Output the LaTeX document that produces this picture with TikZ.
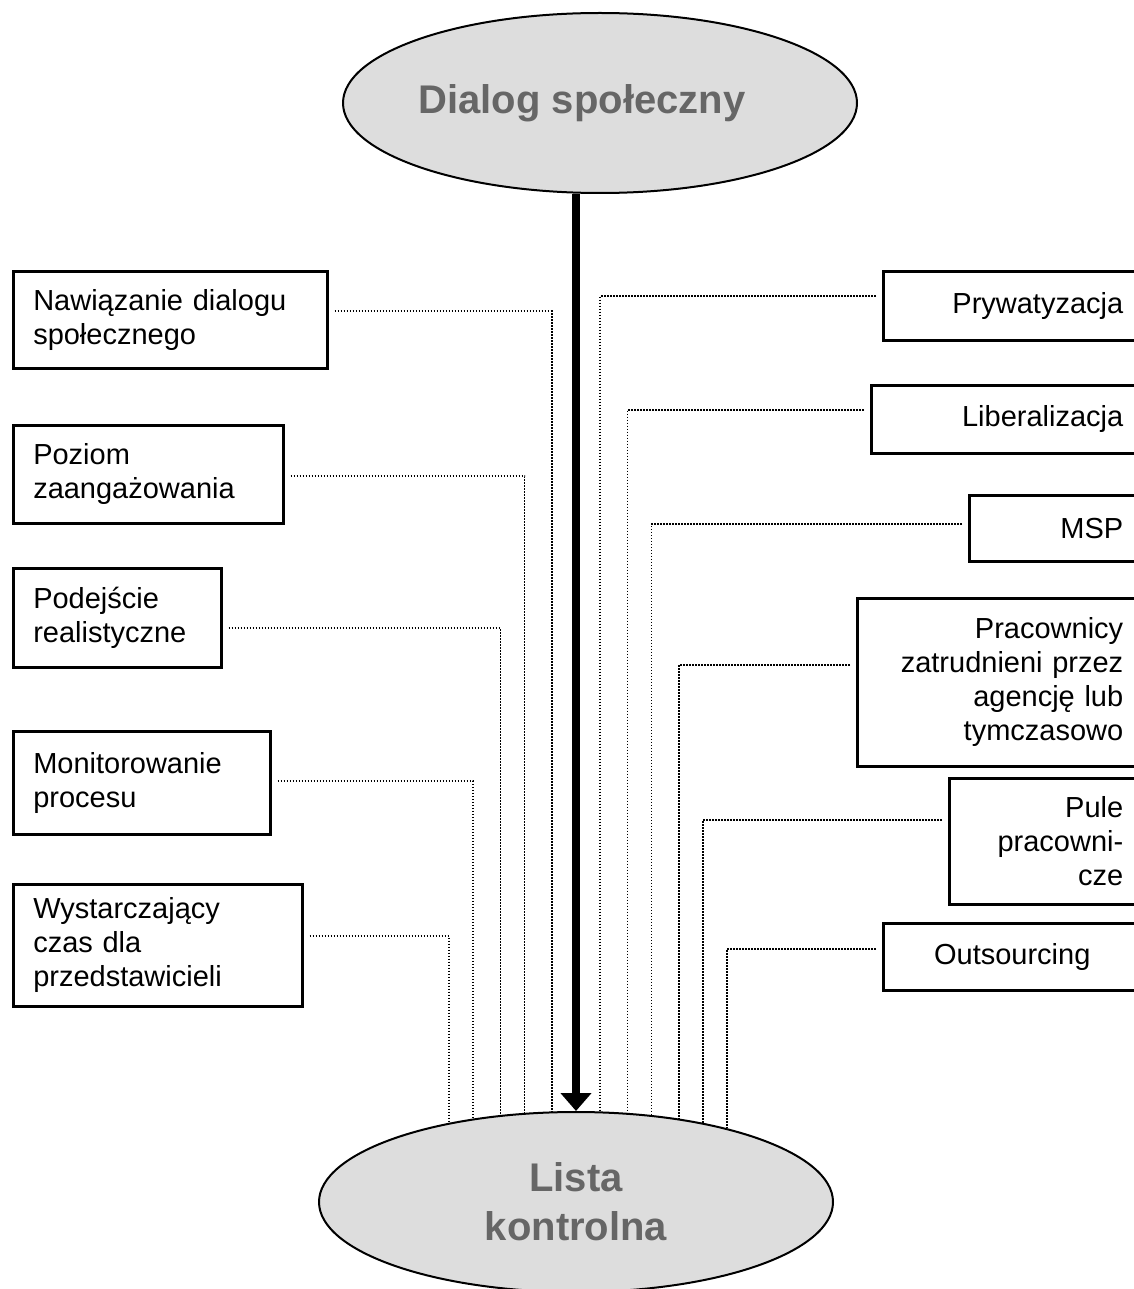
\documentclass[tikz,border=0pt]{standalone}
\usepackage{fontspec}
\setmainfont{Liberation Sans}
\usetikzlibrary{arrows.meta, shapes.geometric}
\definecolor{ovalfill}{HTML}{DDDDDD}
\definecolor{ovaltext}{HTML}{666666}

\begin{document}
\begin{tikzpicture}[x=1pt, y=-1pt,
  oval/.style={draw, ellipse, line width=2pt, fill=ovalfill, text=ovaltext,
    minimum width=514pt, minimum height=180pt, inner sep=0pt, align=center,
    font=\fontsize{40}{49}\selectfont\bfseries},
  leftbox/.style={draw, rectangle, line width=2.5pt, anchor=north west,
    inner xsep=20pt, inner ysep=4pt, align=left, font=\fontsize{29}{34}\selectfont},
  rightbox/.style={leftbox, inner xsep=18pt, align=right},
  link/.style={line width=1.6pt, dash pattern=on 1.6pt off 1.4pt},
  mainarrow/.style={-{Triangle[width=30pt,length=18pt]}, line width=7.5pt}
]
\useasboundingbox (0,0) rectangle (1133,1289);

% Ovals
\node[oval, label={[text=ovaltext, font=\fontsize{40}{49}\selectfont\bfseries,
  xshift=-18pt]center:Dialog społeczny}] (dialog) at (600,103) {};
\node[oval] (lista) at (576,1202) {Lista\\kontrolna};

% Left column
\node[leftbox, text width=274pt, minimum height=97pt] (nawiazanie) at (12,270)
  {Nawiązanie dialogu\\społecznego};
\node[leftbox, text width=230pt, minimum height=98pt] (poziom) at (12,424)
  {Poziom\\zaangażowania};
\node[leftbox, text width=168pt, minimum height=99pt] (podejscie) at (12,567)
  {Podejście\\realistyczne};
\node[leftbox, text width=217pt, minimum height=103pt] (monitor) at (12,730)
  {Monitorowanie\\procesu};
\node[leftbox, text width=249pt, minimum height=122pt] (czas) at (12,883)
  {Wystarczający\\czas dla\\przedstawicieli};

% Right column
\node[rightbox, text width=222pt, minimum height=69pt] (prywat) at (882,270)
  {Prywatyzacja};
\node[rightbox, text width=234pt, minimum height=68pt] (liberal) at (870,384)
  {Liberalizacja};
\node[rightbox, text width=136pt, minimum height=66pt] (msp) at (968,494)
  {MSP};
\node[rightbox, text width=248pt, minimum height=168pt] (agencja) at (856,597)
  {Pracownicy\\zatrudnieni przez\\agencję lub\\tymczasowo};
\node[rightbox, text width=156pt, minimum height=126pt] (pule) at (948,777)
  {Pule\\pracowni-\\cze};
\node[rightbox, align=center, text width=222pt, minimum height=67pt] (outsourcing) at (882,922)
  {Outsourcing};

% Main arrow
\draw[mainarrow] (dialog.south -| lista.north) -- (lista.north);

% Dotted links, left side
\draw[link] ([xshift=6pt,yshift=8.5pt]nawiazanie.east) -| (lista.105);
\draw[link] ([xshift=6pt,yshift=-2pt]poziom.east) -| (lista.120);
\draw[link] ([xshift=6pt,yshift=-10.5pt]podejscie.east) -| (lista.131);
\draw[link] ([xshift=6pt,yshift=1.5pt]monitor.east) -| (lista.141);
\draw[link] ([xshift=6pt,yshift=9pt]czas.east) -| (lista.148);

% Dotted links, right side
\draw[link] ([xshift=-6pt,yshift=9.5pt]prywat.west) -| (lista.75);
\draw[link] ([xshift=-6pt,yshift=9pt]liberal.west) -| (lista.60);
\draw[link] ([xshift=-6pt,yshift=4pt]msp.west) -| (lista.49);
\draw[link] ([xshift=-6pt,yshift=17pt]agencja.west) -| (lista.39);
\draw[link] ([xshift=-6pt,yshift=21pt]pule.west) -| (lista.32);
\draw[link] ([xshift=-6pt,yshift=7.5pt]outsourcing.west) -| (lista.26);

\end{tikzpicture}
\end{document}
